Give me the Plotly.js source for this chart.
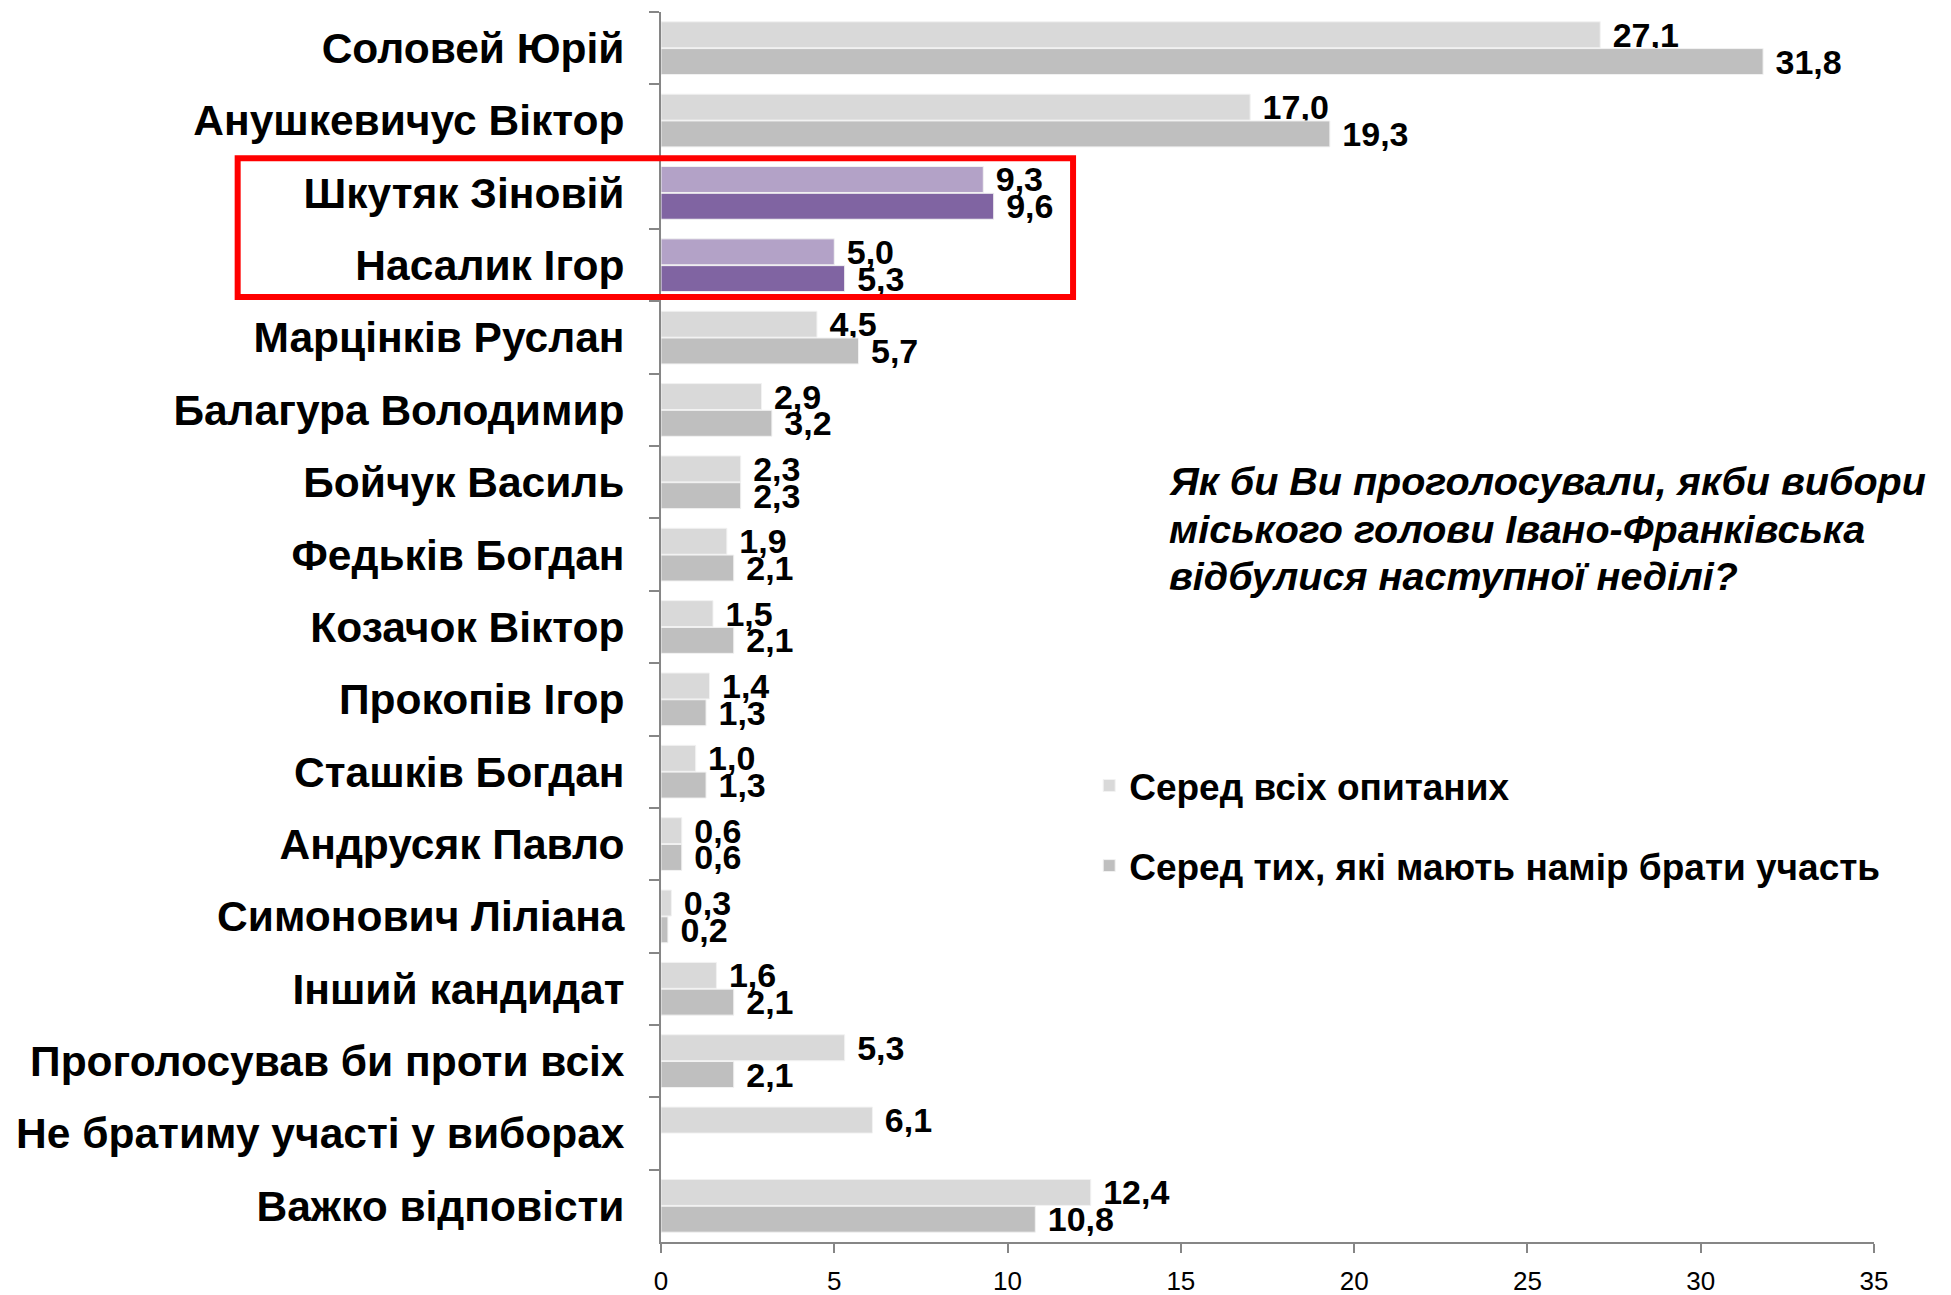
<!DOCTYPE html>
<html>
<head>
<meta charset="utf-8">
<script src="https://cdn.plot.ly/plotly-3.0.1.min.js"></script>
<style>
  html, body { margin: 0; padding: 0; background: #fff; }
  #chart { width: 1951px; height: 1295px; }
</style>
</head>
<body>
<div id="chart"></div>
<script>
const candidates = [
  'Соловей Юрій', 'Анушкевичус Віктор', 'Шкутяк Зіновій', 'Насалик Ігор',
  'Марцінків Руслан', 'Балагура Володимир', 'Бойчук Василь', 'Федьків Богдан',
  'Козачок Віктор', 'Прокопів Ігор', 'Сташків Богдан', 'Андрусяк Павло',
  'Симонович Ліліана', 'Інший кандидат', 'Проголосував би проти всіх',
  'Не братиму участі у виборах', 'Важко відповісти'
];
const allRespondents = [27.1, 17.0, 9.3, 5.0, 4.5, 2.9, 2.3, 1.9, 1.5, 1.4, 1.0, 0.6, 0.3, 1.6, 5.3, 6.1, 12.4];
const likelyVoters   = [31.8, 19.3, 9.6, 5.3, 5.7, 3.2, 2.3, 2.1, 2.1, 1.3, 1.3, 0.6, 0.2, 2.1, 2.1, null, 10.8];
const highlighted = ['Шкутяк Зіновій', 'Насалик Ігор'];
const seriesNames = ['Серед всіх опитаних', 'Серед тих, які мають намір брати участь'];
const xTicks = [0, 5, 10, 15, 20, 25, 30, 35];
const questionLines = [
  'Як би Ви проголосували, якби вибори',
  'міського голови Івано-Франківська',
  'відбулися наступної неділі?'
];

const FONT = 'Liberation Sans, Arial, sans-serif';
const fmt = v => (v == null ? '' : '\u00a0' + v.toFixed(1).replace('.', ','));

function colorsFor(base, accent) {
  return candidates.map(c => highlighted.includes(c) ? accent : base);
}

const common = {
  type: 'bar',
  orientation: 'h',
  y: candidates,
  textposition: 'outside',
  constraintext: 'none',
  cliponaxis: false,
  textfont: { family: FONT, size: 34, color: '#000', weight: 'bold' },
  hoverinfo: 'x+y'
};

const traces = [
  Object.assign({}, common, {
    name: seriesNames[0],
    x: allRespondents,
    text: allRespondents.map(fmt),
    legendgroup: 'a',
    marker: { color: colorsFor('#D9D9D9', '#B3A2C7'), line: { color: '#F2F2F2', width: 1 } }
  }),
  Object.assign({}, common, {
    name: seriesNames[1],
    x: likelyVoters,
    text: likelyVoters.map(fmt),
    legendgroup: 'b',
    marker: { color: colorsFor('#BFBFBF', '#8064A2'), line: { color: '#F2F2F2', width: 1 } }
  })
];

// question text, one annotation per line so the line spacing matches
const lineY = [0.6183, 0.5797, 0.5411];
const annotations = questionLines.map((t, i) => ({
  xref: 'paper', yref: 'paper',
  x: 0.417, y: lineY[i], xanchor: 'left', yanchor: 'middle', align: 'left',
  showarrow: false,
  text: '<i><b>' + t + '</b></i>',
  font: { family: FONT, size: 39.5, color: '#000' }
}));

const layout = {
  width: 1951,
  height: 1295,
  margin: { l: 661, r: 77, t: 12, b: 53 },
  paper_bgcolor: '#fff',
  plot_bgcolor: '#fff',
  barmode: 'group',
  bargap: 0.26,
  bargroupgap: 0.03,
  font: { family: FONT, color: '#000' },
  showlegend: true,
  legend: {
    x: 0.353, y: 0.396, xanchor: 'left', yanchor: 'top',
    traceorder: 'grouped', tracegroupgap: 29,
    font: { family: FONT, size: 37, color: '#000', weight: 'bold' },
    bgcolor: 'rgba(0,0,0,0)'
  },
  xaxis: {
    range: [0, 35],
    tickvals: xTicks,
    ticktext: xTicks.map(String),
    showgrid: false, zeroline: false,
    showline: true, linecolor: '#868686', linewidth: 2,
    ticks: 'outside', ticklen: 9, tickcolor: '#868686', tickwidth: 2,
    ticklabelstandoff: 6,
    tickfont: { family: FONT, size: 26, color: '#000' }
  },
  yaxis: {
    type: 'category',
    autorange: 'reversed',
    showgrid: false, zeroline: false,
    showline: true, linecolor: '#868686', linewidth: 2,
    ticks: 'outside', ticklen: 10, tickcolor: '#868686', tickwidth: 2,
    tickson: 'boundaries',
    ticklabelstandoff: 26,
    tickfont: { family: FONT, size: 42.5, color: '#000', weight: 'bold' }
  },
  shapes: [{
    type: 'rect', xref: 'paper', yref: 'y',
    x0: -0.349, x1: 0.3397, y0: 1.52, y1: 3.44,
    line: { color: '#FF0000', width: 6 },
    fillcolor: 'rgba(0,0,0,0)', layer: 'above'
  }],
  annotations: annotations
};

Plotly.newPlot('chart', traces, layout, { displayModeBar: false, staticPlot: true });
</script>
</body>
</html>
